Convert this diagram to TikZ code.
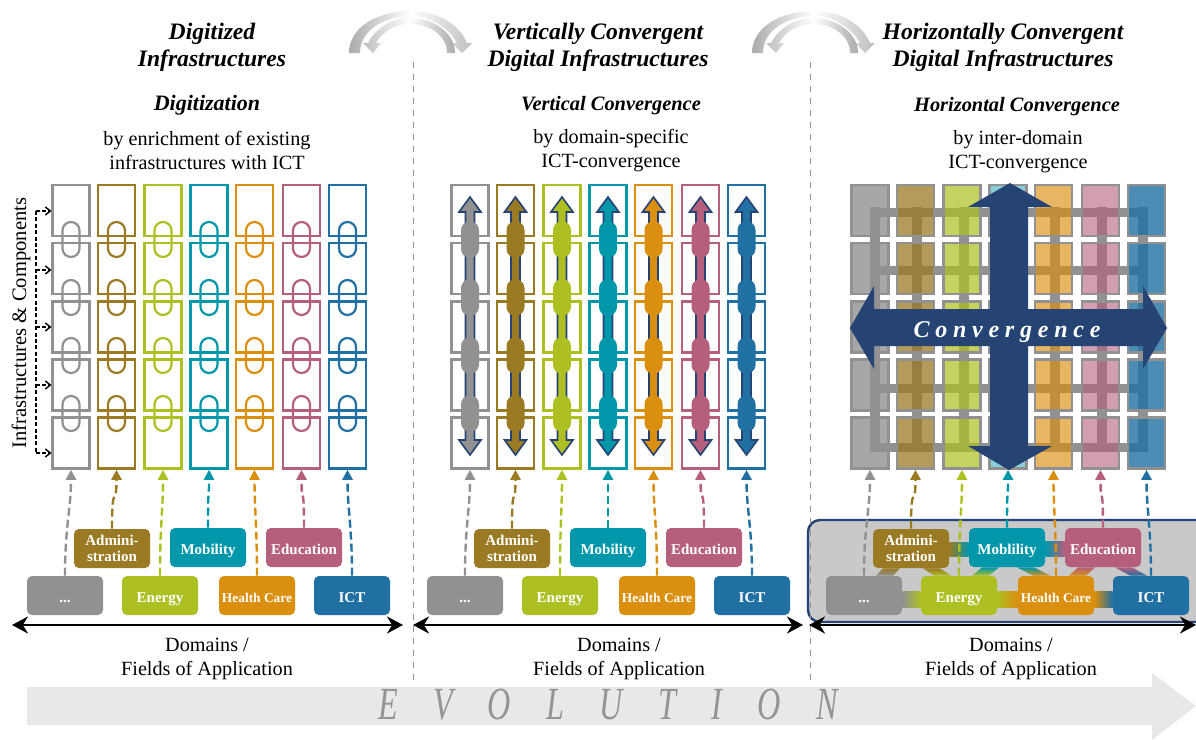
\documentclass[tikz,border=0pt]{standalone}
\usepackage{fontspec}
\usepackage{graphicx}
\setmainfont{Liberation Serif}
\usetikzlibrary{arrows.meta,backgrounds}

\definecolor{cgray}{HTML}{919191}
\definecolor{cbrown}{HTML}{9B7A24}
\definecolor{cgreen}{HTML}{AEC021}
\definecolor{cteal}{HTML}{0097AB}
\definecolor{corange}{HTML}{DB8F0E}
\definecolor{cpink}{HTML}{B65F7C}
\definecolor{cblue}{HTML}{2070A3}
\definecolor{cnavy}{HTML}{254373}
\definecolor{cpanel}{HTML}{C9C9C9}
\definecolor{cevo}{HTML}{E8E8E8}

\tikzset{
	cell/.style={draw=#1, line width=1.25pt, inner sep=0pt, minimum width=18.3pt, minimum height=25.5pt},
	fillcell/.style 2 args={draw=cgray, line width=1.25pt, fill=#1, fill opacity=#2, inner sep=0pt, minimum width=18.3pt, minimum height=25.5pt},
	domainbox/.style={fill=#1, rounded corners=2.5pt, text=white, inner sep=0pt, minimum width=38pt, minimum height=19.5pt, align=center, font=\fontsize{7.5}{8}\selectfont\bfseries},
	oneline/.style={text height=6.5pt, text depth=0pt},
	twoline/.style={},
	feed/.style={draw=#1, line width=1.2pt, dash pattern=on 4pt off 2pt, -{Triangle[length=5pt,width=5pt]}},
	titletext/.style={align=center, font=\fontsize{11.8}{13.5}\selectfont\bfseries\itshape},
	headtext/.style={align=center, font=\fontsize{10.2}{13}\selectfont\bfseries\itshape},
	bodytext/.style={align=center, font=\fontsize{10.1}{12}\selectfont},
	extent/.style={line width=1.3pt, {Stealth[length=8pt,width=8.5pt]}-{Stealth[length=8pt,width=8.5pt]}},
	panelsep/.style={cgray, line width=.5pt, dashed},
}

\newcommand{\columnlist}{1/71/cgray,2/116.5/cbrown,3/163/cgreen,4/209/cteal,5/254.5/corange,6/301.5/cpink,7/347.5/cblue}
\newcommand{\rowlist}{1/210.5,2/268.5,3/327,4/385,5/443}
\newcommand{\otherlabel}{...}

\begin{document}
\begin{tikzpicture}[x=0.5pt,y=-0.5pt]
	\useasboundingbox (0,0) rectangle (1196,740);

	% evolution arrow
	\fill[cevo] (27,687) -- (1152,687) -- (1152,673) -- (1196,706) -- (1152,740) -- (1152,725) -- (27,725) -- cycle;
	\node (evolution) at (608,705) {\scalebox{.7}[1]{\fontsize{23}{23}\selectfont\itshape\color{black!42}\addfontfeature{LetterSpace=110}EVOLUTION}};

	% swap arrows on top
	\foreach \dx in {0,403} {
		\begin{scope}[shift={(\dx,0)}]
			\shade[left color=black!33, right color=white] (349,53) .. controls (349,27) and (378,11) .. (410,11) -- (410,16) .. controls (382,17) and (360,31) .. (360,53) -- cycle;
			\shade[left color=white, right color=black!25] (410,11) .. controls (435,11) and (458,22) .. (467,43) -- (472,43) -- (462,53) -- (452,43) -- (457,43) .. controls (448,27) and (430,16) .. (410,16) -- cycle;
			\shade[left color=white, right color=black!33] (410,18) .. controls (432,18) and (455,32) .. (455,53) -- (447,53) .. controls (447,36) and (430,24) .. (410,24) -- cycle;
			\shade[left color=black!25, right color=white] (410,18) .. controls (392,18) and (376,28) .. (368,43) -- (363,43) -- (373,53) -- (381,43) -- (376,43) .. controls (382,32) and (395,24) .. (410,24) -- cycle;
		\end{scope}
	}

	% separators
	\draw[panelsep] (413.5,62) -- (413.5,682);
	\draw[panelsep] (810,62) -- (810,682);

	% texts
	\node[titletext] (titlea) at (212,47) {Digitized\\Infrastructures};
	\node[titletext] (titleb) at (598,47) {Vertically Convergent\\Digital Infrastructures};
	\node[titletext] (titlec) at (1003,47) {Horizontally Convergent\\Digital Infrastructures};
	\node[headtext, font=\fontsize{11}{13}\selectfont\bfseries\itshape] (heada) at (207,105) {Digitization};
	\node[headtext] (headb) at (611,106) {Vertical Convergence};
	\node[headtext] (headc) at (1017,107) {Horizontal Convergence};
	\node[bodytext] (bodya) at (207,150) {by enrichment of existing\\infrastructures with ICT};
	\node[bodytext] (bodyb) at (611,151) {by domain-specific\\ICT-convergence};
	\node[bodytext] (bodyc) at (1018,152) {by inter-domain\\ICT-convergence};
	\node[bodytext] (fielda) at (207,659) {Domains /\\Fields of Application};
	\node[bodytext] (fieldb) at (619,659) {Domains /\\Fields of Application};
	\node[bodytext] (fieldc) at (1011,659) {Domains /\\Fields of Application};
	\node[rotate=90, font=\fontsize{10.3}{12}\selectfont] (rowlabel) at (21,323) {Infrastructures \& Components};

	% grid behind the last panel
	\foreach \y in {212.5,270,329,388,447.5}
		\fill[cgray] (870,\y-4.5) rectangle (1148,\y+4.5);
	\foreach \x in {875,917,964,1009,1055,1102,1143}
		\fill[cgray] (\x-5,207) rectangle (\x+5,452);

	% cells
	\foreach \p/\dx in {a/0,b/399}
		\foreach \i/\x/\c in \columnlist
			\foreach \j/\y in \rowlist
				\node[cell=\c] (cell\p\i\j) at (\x+\dx,\y) {};
	\foreach \i/\x/\c/\o in {1/71/cgray/.8,2/116.5/cbrown/.75,3/163/cgreen/.72,4/209/cteal/.47,5/254.5/corange/.65,6/301.5/cpink/.6,7/347.5/cblue/.8}
		\foreach \j/\y in \rowlist
			\node[fillcell={\c}{\o}] (cellc\i\j) at (\x+799,\y) {};

	% links of the first panel
	\foreach \i/\x/\c in \columnlist
		\foreach \y in {239.5,297.5,355.5,413.5}
			\draw[\c, line width=1.1pt, rounded corners=4.25pt] (\x-8.5,\y-17.5) rectangle (\x+8.5,\y+17.5);

	% arrows of the second panel
	\foreach \i/\x/\c in \columnlist {
		\draw[cnavy, fill=\c, line width=.8pt] (\x+399,197) -- (\x+410,212) -- (\x+403.5,212) -- (\x+403.5,440) -- (\x+410,440) -- (\x+399,455) -- (\x+388,440) -- (\x+394.5,440) -- (\x+394.5,212) -- (\x+388,212) -- cycle;
		\foreach \y in {239.5,297.5,355.5,413.5}
			\fill[\c, rounded corners=4.25pt] (\x+390,\y-18) rectangle (\x+408,\y+18);
	}

	% cross of the last panel
	\fill[cnavy] (1010,183) -- (1052,207) -- (1028,207) -- (1028,309) -- (1143,309) -- (1143,286) -- (1167,328) -- (1143,369) -- (1143,346) -- (1028,346) -- (1028,446) -- (1052,446) -- (1009,470) -- (968,446) -- (990,446) -- (990,346) -- (874,346) -- (874,369) -- (850,328) -- (874,286) -- (874,309) -- (990,309) -- (990,207) -- (968,207) -- cycle;
	\node[text=white, font=\fontsize{12}{12}\selectfont\bfseries\itshape] (convergence) at (1007,332) {\addfontfeature{LetterSpace=24}Convergence};

	% domains and feeds
	\foreach \p/\dc/\db/\m in {a/0/0/Mobility,b/399/400/Mobility,c/799/799/Moblility} {
		\foreach \i/\x/\y/\t/\c/\s in {1/65/595.5/\otherlabel/cgray/oneline,2/112/548.5/{Admini-\\stration}/cbrown/twoline,3/160/595.5/Energy/cgreen/oneline,4/208/547.5/\m/cteal/oneline,5/257/595.5/{\fontsize{6.7}{8}\selectfont Health Care}/corange/oneline,6/304/547.5/Education/cpink/oneline,7/352/595.5/ICT/cblue/oneline} {
			\node[domainbox=\c, \s] (dom\p\i) at (\x+\db,\y) {\t};
			\draw[feed=\c] (dom\p\i.north) .. controls +(0,-50) and +(0,40) .. (cell\p\i5.south);
		}
	}

	% the joined domains, kept under the boxes
	\begin{pgfonlayer}{background}
		\fill[cpanel, draw=cnavy, line width=1.2pt, rounded corners=6pt] (808,520) rectangle (1210,622);
		\foreach \l/\r/\cl/\cr/\t/\b in {1/3/cgray/cgreen/2.25/-5.75,3/5/cgreen/corange/2.25/-5.75,5/7/corange/cblue/2.25/-5.75,2/4/cbrown/cteal/3/-4.5,4/6/cteal/cpink/3/-4.5}
			\shade[left color=\cl, right color=\cr] ([yshift=\t pt]domc\l.east) rectangle ([yshift=\b pt]domc\r.west);
		\foreach \u/\d/\tx/\bx/\cu/\cd in {2/1/-14/6/cbrown/cgray,2/3/6/-12.5/cbrown/cgreen,4/3/-12.5/6.5/cteal/cgreen,4/5/5/-11.5/cteal/corange,6/5/-12.5/6.5/cpink/corange,6/7/6/-10.5/cpink/cblue}
			\shade[top color=\cu, bottom color=\cd] ([xshift=\tx pt]domc\u.south) -- ([xshift=\tx pt+8.5pt]domc\u.south) -- ([xshift=\bx pt+8.5pt]domc\d.north) -- ([xshift=\bx pt]domc\d.north) -- cycle;
	\end{pgfonlayer}

	% extents
	\coordinate (enda1) at (12,625);
	\coordinate (enda2) at (403,625);
	\coordinate (endb1) at (413,625);
	\coordinate (endb2) at (803,625);
	\coordinate (endc1) at (809,625);
	\coordinate (endc2) at (1196,625);
	\draw[extent] (enda1) -- (enda2);
	\draw[extent] (endb1) -- (endb2);
	\draw[extent] (endc1) -- (endc2);

	% row bracket
	\draw[dash pattern=on 2pt off 1.2pt, line width=.7pt] (36,211) -- (36,453);
	\foreach \k/\y in {1/211,2/270,3/327,4/385,5/453}
		\draw[dash pattern=on 2pt off 1pt, line width=.7pt, -{Straight Barb[length=2.5pt,width=4pt]}] (36,\y) -- (cella1\k.west |- 36,\y);
\end{tikzpicture}
\end{document}
